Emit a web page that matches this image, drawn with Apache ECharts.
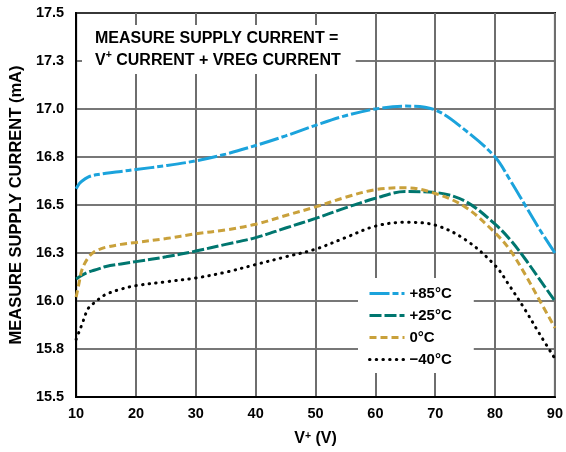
<!DOCTYPE html>
<html>
<head>
<meta charset="utf-8">
<script src="https://cdn.jsdelivr.net/npm/echarts@6/dist/echarts.min.js"></script>
<style>
html,body{margin:0;padding:0;background:#fff;}
#chart{width:566px;height:452px;}
</style>
</head>
<body>
<div id="chart"></div>
<script>
var voltage = [10, 10.5, 11, 12, 13, 14, 15, 17.5, 20, 25, 30, 35, 40, 45, 50, 55, 60, 65, 70, 75, 80, 82.5, 85, 87.5, 90];
var curr85 = [16.585, 16.61, 16.625, 16.645, 16.655, 16.66, 16.665, 16.675, 16.685, 16.705, 16.73, 16.765, 16.81, 16.86, 16.915, 16.965, 17.0, 17.015, 16.995, 16.89, 16.75, 16.63, 16.5, 16.37, 16.25];
var curr25 = [16.115, 16.125, 16.135, 16.15, 16.16, 16.17, 16.18, 16.193, 16.205, 16.23, 16.26, 16.295, 16.33, 16.38, 16.43, 16.485, 16.535, 16.57, 16.565, 16.52, 16.40, 16.32, 16.22, 16.11, 16.0];
var curr0 = [16.02, 16.095, 16.165, 16.225, 16.255, 16.27, 16.28, 16.295, 16.305, 16.325, 16.35, 16.37, 16.40, 16.445, 16.49, 16.54, 16.58, 16.59, 16.56, 16.49, 16.355, 16.265, 16.14, 16.0, 15.86];
var currM40 = [15.80, 15.84, 15.88, 15.96, 15.99, 16.015, 16.035, 16.062, 16.08, 16.10, 16.12, 16.15, 16.19, 16.23, 16.27, 16.33, 16.39, 16.41, 16.395, 16.32, 16.185, 16.075, 15.955, 15.825, 15.70];
var seriesNames = ['+85°C', '+25°C', '0°C', '\u221240°C'];
var xTicks = [10, 20, 30, 40, 50, 60, 70, 80, 90];
var yTicks = [15.5, 15.75, 16.0, 16.25, 16.5, 16.75, 17.0, 17.25, 17.5];

function zip(xs, ys) { return xs.map(function (x, i) { return [x, ys[i]]; }); }

var FONT = "'Liberation Sans', Arial, Helvetica, sans-serif";
var chart = echarts.init(document.getElementById('chart'), null, {renderer: 'canvas'});

var styles = [
  {color: '#1ba3dc', type: [20, 3, 6, 3], cap: 'butt'},
  {color: '#00766f', type: [12, 3], cap: 'butt'},
  {color: '#c9a13b', type: [7, 4], cap: 'butt'},
  {color: '#000000', type: [0.5, 6.2], cap: 'round'}
];
var datasets = [curr85, curr25, curr0, currM40];

var option = {
  animation: false,
  backgroundColor: '#fff',
  textStyle: {fontFamily: FONT},
  grid: {left: 76, right: 11, top: 13, bottom: 55, show: true, borderColor: '#000', borderWidth: 2, backgroundColor: 'transparent'},
  title: {
    text: 'MEASURE SUPPLY CURRENT =\nV{sup|+} CURRENT + VREG CURRENT',
    left: 82, top: 25,
    backgroundColor: '#fff',
    padding: [3, 15, 2, 13],
    textStyle: {
      fontFamily: FONT, fontWeight: 'bold', fontSize: 16, lineHeight: 22, color: '#000',
      rich: {sup: {fontFamily: FONT, fontWeight: 'bold', fontSize: 10.5, verticalAlign: 'top', lineHeight: 14, color: '#000'}}
    },
    z: 10
  },
  legend: {
    orient: 'vertical',
    left: 358, top: 278,
    backgroundColor: '#fff',
    padding: [8, 22, 6, 10],
    itemWidth: 35, itemHeight: 14, itemGap: 7,
    itemStyle: {opacity: 0, borderWidth: 0},
    lineStyle: {width: 3},
    textStyle: {fontFamily: FONT, fontWeight: 'bold', fontSize: 15, color: '#000'},
    data: seriesNames,
    z: 10
  },
  xAxis: {
    type: 'value', min: 10, max: 90, interval: 10,
    name: 'V{sup|+} (V)', nameLocation: 'middle', nameGap: 34,
    nameTextStyle: {fontFamily: FONT, fontWeight: 'bold', fontSize: 16, color: '#000',
      rich: {sup: {fontFamily: FONT, fontWeight: 'bold', fontSize: 10.5, verticalAlign: 'top', lineHeight: 12, color: '#000'}}},
    axisLine: {show: true, lineStyle: {color: '#000', width: 2}},
    axisTick: {show: false},
    axisLabel: {fontFamily: FONT, fontWeight: 'bold', fontSize: 14.5, color: '#000', margin: 9,
      formatter: function (v) { return xTicks.indexOf(v) >= 0 ? String(v) : ''; }},
    splitLine: {show: true, lineStyle: {color: '#6e6e6e', width: 2}}
  },
  yAxis: {
    type: 'value', min: 15.5, max: 17.5, interval: 0.25,
    name: 'MEASURE SUPPLY CURRENT (mA)', nameLocation: 'middle', nameGap: 50, nameRotate: 90,
    nameTextStyle: {fontFamily: FONT, fontWeight: 'bold', fontSize: 16.5, color: '#000'},
    axisLine: {show: true, lineStyle: {color: '#000', width: 2}},
    axisTick: {show: false},
    axisLabel: {fontFamily: FONT, fontWeight: 'bold', fontSize: 14.5, color: '#000', margin: 12,
      formatter: function (v) {
        for (var i = 0; i < yTicks.length; i++) { if (Math.abs(yTicks[i] - v) < 1e-6) return yTicks[i].toFixed(1); }
        return '';
      }},
    splitLine: {show: true, lineStyle: {color: '#4a4a4a', width: 1.5}}
  },
  series: datasets.map(function (d, i) {
    return {
      name: seriesNames[i], type: 'line', data: zip(voltage, d),
      smooth: 0.35, showSymbol: false, symbol: 'none',
      color: styles[i].color,
      lineStyle: {color: styles[i].color, width: 3, type: styles[i].type, cap: styles[i].cap},
      z: 3 + i
    };
  })
};
chart.setOption(option);
</script>
</body>
</html>
